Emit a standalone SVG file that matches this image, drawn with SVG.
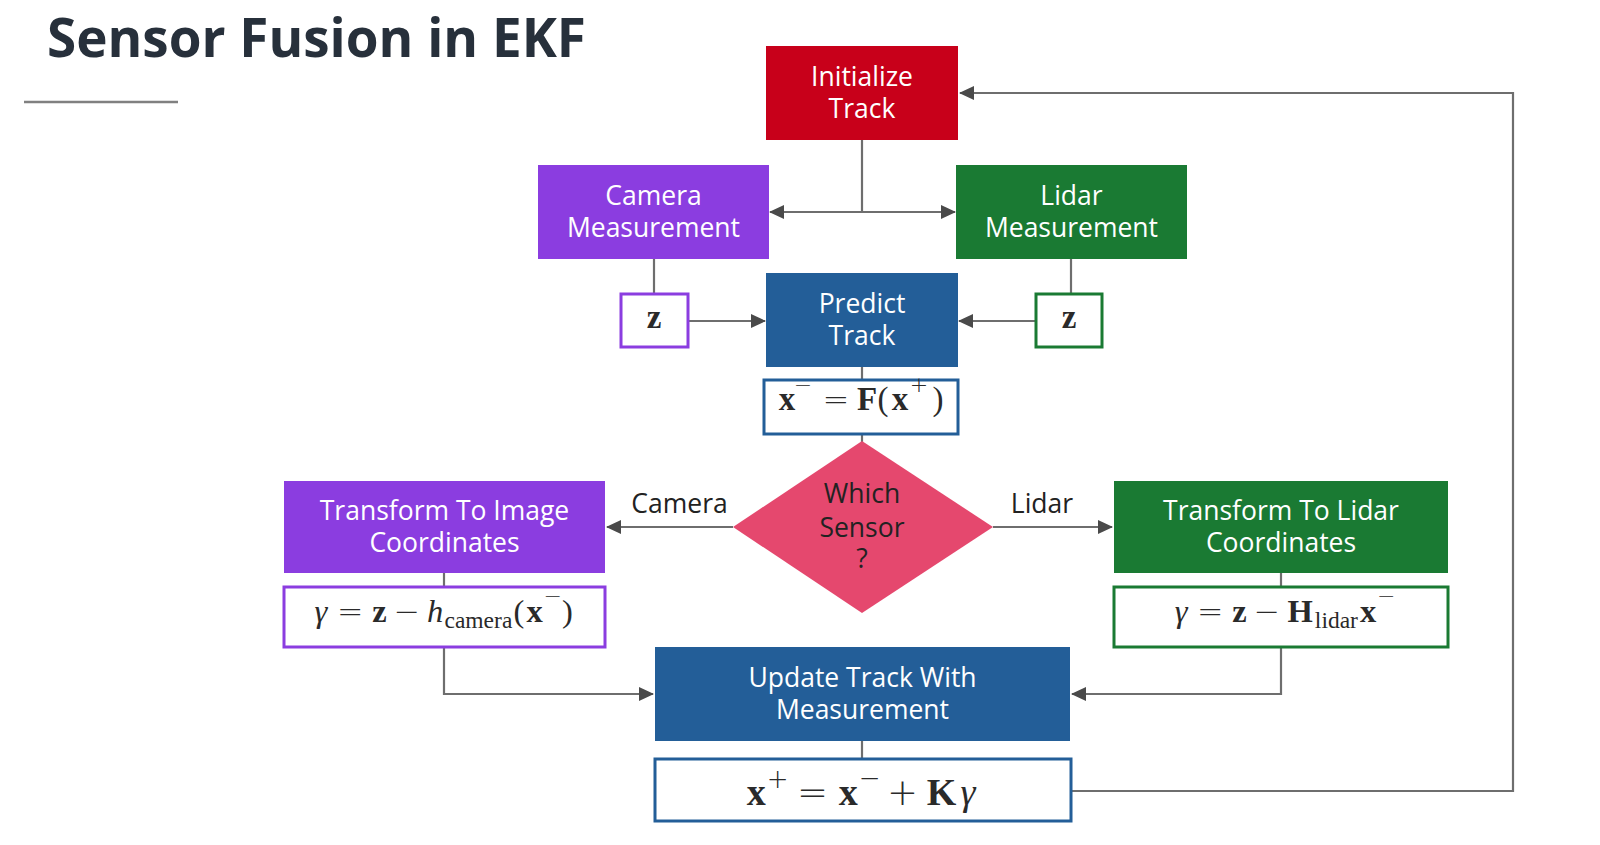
<svg xmlns="http://www.w3.org/2000/svg" width="1600" height="845" viewBox="0 0 1600 845">
<defs>
<marker id="ah" viewBox="0 0 15 14" refX="14" refY="7" markerWidth="15" markerHeight="14" markerUnits="userSpaceOnUse" orient="auto">
<path d="M0,0 L15,7 L0,14 Z" fill="#4a4a4a"/>
</marker>
<style>
.t{font-family:"Open Sans","Noto Sans",sans-serif;font-size:26.5px;fill:#fff;text-anchor:middle}
.lbl{font-family:"Open Sans","Noto Sans",sans-serif;font-size:26.5px;fill:#222;text-anchor:middle}
.c{stroke:#6e6e6e;stroke-width:2.2;fill:none}
.m{font-family:"Liberation Serif","DejaVu Serif",serif;fill:#2a2a2a;text-anchor:middle}
.op{font-family:"DejaVu Sans","Liberation Sans",sans-serif;font-weight:200}
.b{font-weight:bold}
.i{font-style:italic}
.fb{fill:#fff;stroke-width:3}
</style>
</defs>
<rect width="1600" height="845" fill="#fff"/>
<g id="title">
<text x="47" y="57" font-family="Open Sans, Noto Sans, sans-serif" font-weight="bold" font-size="53" fill="#27303b">Sensor Fusion in EKF</text>
<line x1="24" y1="102" x2="178" y2="102" stroke="#808080" stroke-width="2.5"/>
</g>
<g id="connectors">
<path class="c" d="M862,140 V212"/>
<path class="c" d="M862,212 H770" marker-end="url(#ah)"/>
<path class="c" d="M862,212 H955" marker-end="url(#ah)"/>
<path class="c" d="M654,259 V293"/>
<path class="c" d="M1071,259 V293"/>
<path class="c" d="M688,321 H765" marker-end="url(#ah)"/>
<path class="c" d="M1036,321 H959" marker-end="url(#ah)"/>
<path class="c" d="M862,367 V379"/>
<path class="c" d="M862,434 V442"/>
<path class="c" d="M733,527 H607" marker-end="url(#ah)"/>
<path class="c" d="M993,527 H1112" marker-end="url(#ah)"/>
<path class="c" d="M444,573 V586"/>
<path class="c" d="M1281,573 V586"/>
<path class="c" d="M444,647 V694 H653" marker-end="url(#ah)"/>
<path class="c" d="M1281,647 V694 H1072" marker-end="url(#ah)"/>
<path class="c" d="M862,741 V758"/>
<path class="c" d="M1071,791 H1513 V93 H960" marker-end="url(#ah)"/>
<text class="lbl" x="679.5" y="513">Camera</text>
<text class="lbl" x="1042" y="513">Lidar</text>
</g>
<g id="init">
<rect x="766" y="46" width="192" height="94" fill="#c8001a"/>
<text class="t" x="862" y="86">Initialize</text>
<text class="t" x="862" y="118">Track</text>
</g>
<g id="camera">
<rect x="538" y="165" width="231" height="94" fill="#8b3de0"/>
<text class="t" x="653.5" y="205">Camera</text>
<text class="t" x="653.5" y="237">Measurement</text>
</g>
<g id="lidar">
<rect x="956" y="165" width="231" height="94" fill="#1a7a33"/>
<text class="t" x="1071.5" y="205">Lidar</text>
<text class="t" x="1071.5" y="237">Measurement</text>
</g>
<g id="zcam">
<rect x="621" y="294" width="67" height="53" class="fb" stroke="#8b3de0"/>
<text class="m b" x="654" y="328" font-size="33">z</text>
</g>
<g id="zlid">
<rect x="1036" y="294" width="66" height="53" class="fb" stroke="#1a7a33"/>
<text class="m b" x="1069" y="328" font-size="33">z</text>
</g>
<g id="predict">
<rect x="766" y="273" width="192" height="94" fill="#235e98"/>
<text class="t" x="862" y="313">Predict</text>
<text class="t" x="862" y="345">Track</text>
</g>
<g id="predeq">
<rect x="764" y="380" width="194" height="54" class="fb" stroke="#235e98"/>
<text class="m" font-size="33"><tspan class="b" x="787" y="410">x</tspan><tspan class="op" x="803" y="392" font-size="22">−</tspan><tspan class="op" x="836" y="410" font-size="32">=</tspan><tspan class="b" x="867" y="410">F</tspan><tspan x="883" y="410">(</tspan><tspan class="b" x="900" y="410">x</tspan><tspan class="op" x="919" y="392" font-size="22">+</tspan><tspan x="938" y="410">)</tspan></text>
</g>
<g id="decision">
<polygon points="862,441 993,527 862,613 733,527" fill="#e5486e"/>
<text class="lbl" x="862" y="503" fill="#2b1a20">Which</text>
<text class="lbl" x="862" y="537" fill="#2b1a20">Sensor</text>
<text class="lbl" x="862" y="568" fill="#2b1a20">?</text>
</g>
<g id="timg">
<rect x="284" y="481" width="321" height="92" fill="#8b3de0"/>
<text class="t" x="444.5" y="520">Transform To Image</text>
<text class="t" x="444.5" y="552">Coordinates</text>
</g>
<g id="camq">
<rect x="284" y="587" width="321" height="60" class="fb" stroke="#8b3de0"/>
<text class="m" font-size="32.5"><tspan class="i" x="321" y="622">γ</tspan><tspan class="op" x="350.3" y="622" font-size="31.5">=</tspan><tspan class="b" x="379.4" y="622">z</tspan><tspan class="op" x="406.7" y="622" font-size="31.5">−</tspan><tspan class="i" x="435" y="622">h</tspan><tspan x="478.4" y="628" font-size="23.5">camera</tspan><tspan x="518.9" y="622">(</tspan><tspan class="b" x="534.6" y="622">x</tspan><tspan class="op" x="552.7" y="603" font-size="22">−</tspan><tspan x="567.5" y="622">)</tspan></text>
</g>
<g id="tlid">
<rect x="1114" y="481" width="334" height="92" fill="#1a7a33"/>
<text class="t" x="1281" y="520">Transform To Lidar</text>
<text class="t" x="1281" y="552">Coordinates</text>
</g>
<g id="lidq">
<rect x="1114" y="587" width="334" height="60" class="fb" stroke="#1a7a33"/>
<text class="m" font-size="32.5"><tspan class="i" x="1181.2" y="622">γ</tspan><tspan class="op" x="1210.3" y="622" font-size="31.5">=</tspan><tspan class="b" x="1239.4" y="622">z</tspan><tspan class="op" x="1266.7" y="622" font-size="31.5">−</tspan><tspan class="b" x="1300.2" y="622">H</tspan><tspan x="1336.4" y="628" font-size="23.5">lidar</tspan><tspan class="b" x="1368" y="622">x</tspan><tspan class="op" x="1386.2" y="603" font-size="22">−</tspan></text>
</g>
<g id="update">
<rect x="655" y="647" width="415" height="94" fill="#235e98"/>
<text class="t" x="862.5" y="687">Update Track With</text>
<text class="t" x="862.5" y="719">Measurement</text>
</g>
<g id="updeq">
<rect x="655" y="759" width="416" height="62" class="fb" stroke="#235e98"/>
<text class="m" font-size="38"><tspan class="b" x="756.2" y="805">x</tspan><tspan class="op" x="777.6" y="788" font-size="26">+</tspan><tspan class="op" x="812.4" y="805" font-size="37">=</tspan><tspan class="b" x="848.3" y="805">x</tspan><tspan class="op" x="869.7" y="787" font-size="26">−</tspan><tspan class="op" x="902.4" y="805" font-size="37">+</tspan><tspan class="b" x="941.6" y="805">K</tspan><tspan class="i" x="967.9" y="805">γ</tspan></text>
</g>
</svg>
